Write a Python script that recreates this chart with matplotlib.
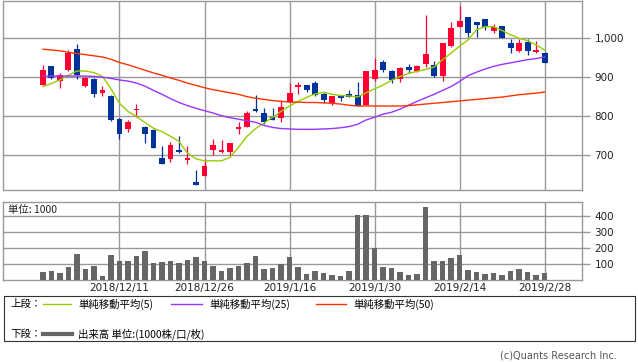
import numpy as np
import matplotlib.pyplot as plt
from matplotlib.patches import Rectangle
from matplotlib.lines import Line2D

# daily candles 2018/11/28 - 2019/2/28 (60 trading days)
opens = [880, 929, 891, 919, 973, 878, 896, 860, 852, 793,
         768, 815, 773, 765, 693, 691, 712, 688, 631, 645,
         713, 709, 709, 768, 771, 819, 808, 799, 794, 836,
         874, 880, 886, 858, 835, 853, 856, 855, 829, 896,
         940, 916, 895, 926, 915, 934, 932, 902, 981, 1030,
         1056, 1042, 1050, 1020, 1032, 989, 968, 990, 965, 963]
highs = [932, 929, 912, 969, 986, 900, 899, 878, 854, 794,
         790, 832, 775, 767, 724, 733, 749, 724, 662, 689,
         740, 739, 731, 785, 814, 855, 821, 820, 842, 885,
         889, 880, 890, 863, 852, 854, 868, 889, 917, 949,
         944, 919, 926, 934, 931, 1060, 943, 987, 1042, 1084,
         1056, 1042, 1050, 1036, 1032, 998, 999, 999, 992, 966]
lows = [880, 896, 873, 916, 896, 876, 850, 852, 788, 742,
        760, 797, 730, 717, 677, 681, 705, 678, 622, 645,
        699, 706, 700, 755, 771, 811, 780, 790, 786, 836,
        857, 863, 853, 835, 829, 840, 848, 827, 829, 891,
        913, 885, 889, 911, 913, 927, 900, 891, 979, 1030,
        1003, 1003, 1022, 1015, 1000, 963, 966, 958, 963, 936]
closes = [919, 898, 906, 963, 906, 898, 857, 867, 790, 755,
          785, 819, 755, 719, 677, 726, 707, 693, 623, 672,
          727, 713, 731, 772, 809, 812, 784, 790, 824, 860,
          880, 866, 855, 842, 852, 846, 850, 827, 915, 919,
          919, 893, 923, 919, 929, 959, 902, 987, 1026, 1045,
          1013, 1035, 1028, 1030, 1002, 976, 988, 968, 969, 936]

ma5 = [876, 884, 893, 905, 916, 916, 912, 902, 870, 833,
       812, 799, 783, 769, 760, 748, 735, 705, 690, 685,
       685, 685, 694, 720, 748, 768, 782, 797, 812, 826,
       838, 848, 857, 861, 856, 853, 852, 849, 860, 870,
       880, 892, 902, 910, 915, 920, 926, 945, 962, 980,
       996, 1022, 1030, 1030, 1020, 1009, 1000, 994, 983, 970]
ma25 = [903, 903, 903, 903, 903, 903, 902, 900, 897, 893,
        890, 885, 877, 866, 856, 845, 835, 827, 820, 814,
        808, 801, 796, 792, 788, 784, 776, 771, 768, 767,
        766, 766, 766, 767, 768, 770, 773, 779, 790, 797,
        805, 810, 818, 828, 838, 847, 856, 866, 876, 889,
        904, 913, 921, 928, 933, 937, 941, 945, 948, 952]
ma50 = [972, 970, 968, 964, 961, 958, 955, 952, 946, 938,
        932, 925, 918, 911, 905, 898, 892, 885, 879, 873,
        868, 864, 860, 856, 850, 846, 843, 840, 838, 836,
        836, 835, 835, 834, 833, 831, 828, 826, 826, 826,
        826, 826, 826, 827, 829, 831, 833, 835, 837, 839,
        841, 843, 845, 847, 849, 852, 855, 857, 859, 862]

volume = [50, 56, 44, 81, 162, 69, 87, 25, 156, 119,
          119, 150, 181, 106, 112, 119, 106, 125, 144, 119,
          87, 56, 75, 87, 106, 150, 69, 75, 100, 144,
          81, 37, 56, 44, 31, 25, 56, 406, 406, 200,
          81, 75, 50, 31, 37, 456, 119, 119, 137, 156,
          62, 50, 37, 44, 31, 56, 69, 50, 31, 44]

date_pos = [9, 19, 29, 39, 49, 59]
date_labels = ['2018/12/11', '2018/12/26', '2019/1/16',
               '2019/1/30', '2019/2/14', '2019/2/28']
price_ticks = [700, 800, 900, 1000]
vol_ticks = [100, 200, 300, 400]

UP = '#ff0033'
DOWN = '#003399'
GRID = '#999999'
JP = ['Noto Sans CJK JP', 'DejaVu Sans']

W, H = 638, 362
fig = plt.figure(figsize=(W / 100, H / 100), dpi=100)

def px_rect(x0, y0, x1, y1):
    return [x0 / W, 1 - y1 / H, (x1 - x0) / W, (y1 - y0) / H]

ax = fig.add_axes(px_rect(3, 1, 582, 190))
axv = fig.add_axes(px_rect(3, 201.7, 582, 280))

x = np.arange(len(opens))
o = np.array(opens)
c = np.array(closes)
cols = [UP if cc >= oo else DOWN for oo, cc in zip(o, c)]
bottoms = np.minimum(o, c)
heights = np.maximum(np.abs(c - o), 2)

ax.vlines(x, lows, highs, colors=cols, lw=0.9, zorder=3)
ax.bar(x, heights, bottom=bottoms, width=0.7, color=cols, zorder=4)
ax.plot(x, ma5, color='#99cc00', lw=1.0, zorder=5)
ax.plot(x, ma25, color='#9933ff', lw=1.0, zorder=5)
ax.plot(x, ma50, color='#ff3300', lw=1.0, zorder=5)

ax.set_xlim(-4.7, 63.4)
ax.set_ylim(610, 1096)
ax.set_yticks(price_ticks)
ax.set_yticklabels(['700', '800', '900', '1,000'])
ax.set_xticks(date_pos)
ax.set_xticklabels([])

axv.bar(x, volume, width=0.67, color='#666666', zorder=3)
axv.set_xlim(-4.7, 63.4)
axv.set_ylim(0, 489)
axv.set_yticks(vol_ticks)
axv.set_xticks(date_pos)
axv.set_xticklabels(date_labels)
axv.text(0.009, 0.9, '単位: 1000', transform=axv.transAxes, fontsize=7.5,
         family=JP, va='center', ha='left', color='#222222')

for a in (ax, axv):
    a.grid(True, color=GRID, lw=1.0)
    a.set_axisbelow(True)
    a.yaxis.tick_right()
    a.tick_params(axis='y', length=6, color=GRID, width=1.0, labelsize=7.5,
                  pad=3, labelcolor='#222222')
    a.tick_params(axis='x', length=0, labelsize=7.5, pad=2, labelcolor='#222222')
    for s in a.spines.values():
        s.set_color(GRID)
        s.set_linewidth(1.0)

# legend box
fig.patches.append(Rectangle((4 / W, 1 - 341 / H), 631 / W, 45 / H,
                             transform=fig.transFigure, fill=False,
                             edgecolor='#333333', lw=0.8))

def fx(px):
    return px / W

def fy(py):
    return 1 - py / H

y1, y2 = 304, 334
fig.text(fx(10), fy(y1), '上段：', fontsize=7.5, family=JP, va='center')
fig.text(fx(10), fy(y2), '下段：', fontsize=7.5, family=JP, va='center')
items = [(43, 71, '#99cc00', '単純移動平均(5)'),
         (171, 202, '#9933ff', '単純移動平均(25)'),
         (316, 346, '#ff3300', '単純移動平均(50)')]
for x0, x1, col, lab in items:
    fig.lines.append(Line2D([fx(x0), fx(x1)], [fy(y1), fy(y1)], color=col,
                            lw=1.0, transform=fig.transFigure))
    fig.text(fx(x1 + 7), fy(y1), lab, fontsize=7.5, family=JP, va='center')
fig.lines.append(Line2D([fx(43), fx(72)], [fy(y2), fy(y2)], color='#666666',
                        lw=3.0, transform=fig.transFigure))
fig.text(fx(78), fy(y2), '出来高 単位:(1000株/口/枚)', fontsize=7.5, family=JP,
         va='center')

fig.text(fx(617), fy(356), '(c)Quants Research Inc.', fontsize=7, ha='right',
         va='center', color='#555555')

fig.savefig('out.png', dpi=100)
